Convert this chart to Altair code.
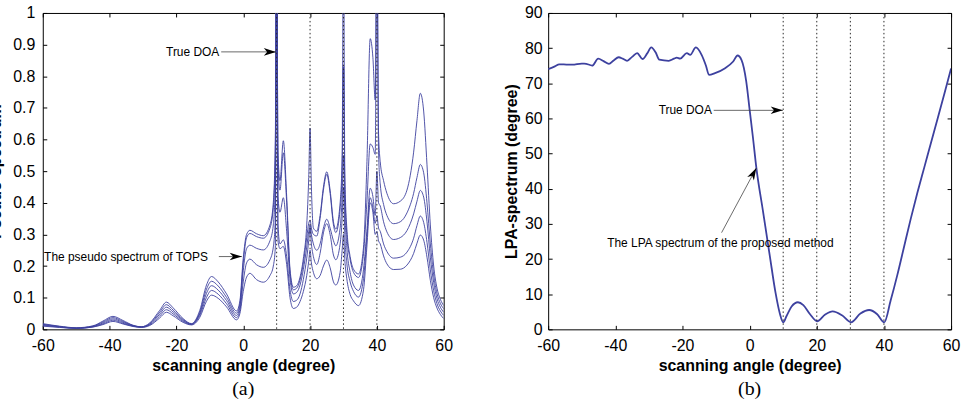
import altair as alt
import pandas as pd

# ---------------- data ----------------
ANG = [-60, -55, -50, -45, -42, -39, -36, -33, -30.5, -28,
       -25, -23, -21, -18, -15.5, -13, -11, -9.5, -7.5, -5,
       -2, -1, 0, 1, 2, 4, 6, 8, 9, 9.6,
       10, 10.4, 11, 12, 13, 14, 15, 16, 17, 18,
       19, 19.6, 20, 20.4, 21, 22, 23, 24, 25, 26,
       27, 27.7, 29, 29.6, 30, 30.4, 31, 32, 33, 34.5,
       36, 37, 38, 38.8, 39.5, 40, 40.5, 41, 42, 43,
       45, 47, 49, 51, 52, 53, 54, 55, 56, 57,
       58, 59, 60]

C1 = [.018, .010, .005, .011, .026, .041, .028, .013, .008, .020,
      .060, .086, .068, .034, .018, .060, .140, .167, .150, .112,
      .058, .090, .225, .300, .313, .302, .296, .330, .400, .600,
      1.3, .560, .470, .596, .420, .190, .133, .138, .165, .225,
      .330, .480, .636, .450, .320, .310, .360, .450, .498, .440,
      .340, .317, .400, .550, 1.3, .500, .320, .230, .190, .175,
      .260, .520, .919, .860, .725, 1.3, .620, .530, .470, .430,
      .397, .405, .440, .560, .660, .746, .690, .520, .330, .200,
      .130, .095, .075]
C2 = [.016, .009, .004, .010, .023, .037, .025, .012, .008, .018,
      .054, .078, .061, .031, .017, .054, .127, .152, .137, .101,
      .051, .080, .210, .290, .303, .293, .288, .320, .385, .560,
      1.3, .520, .440, .558, .400, .180, .125, .130, .156, .210,
      .290, .335, .345, .320, .300, .295, .350, .440, .490, .430,
      .330, .306, .380, .500, .830, .450, .300, .220, .180, .164,
      .240, .400, .586, .575, .553, 1.3, .560, .460, .395, .360,
      .334, .340, .368, .430, .480, .521, .495, .400, .270, .172,
      .113, .082, .065]
C3 = [.014, .008, .004, .009, .020, .033, .022, .011, .007, .016,
      .048, .070, .055, .028, .016, .049, .114, .138, .124, .091,
      .044, .070, .185, .255, .266, .256, .251, .280, .330, .460,
      1.3, .420, .370, .416, .310, .160, .112, .117, .140, .190,
      .260, .310, .330, .300, .270, .250, .270, .320, .348, .320,
      .280, .264, .320, .420, .550, .380, .260, .180, .140, .123,
      .190, .310, .446, .420, .360, .500, .400, .390, .340, .308,
      .284, .290, .312, .365, .405, .439, .418, .340, .228, .148,
      .097, .070, .054]
C4 = [.012, .007, .003, .008, .017, .029, .019, .010, .007, .014,
      .042, .062, .049, .025, .015, .044, .101, .123, .111, .081,
      .037, .060, .150, .210, .222, .204, .196, .220, .260, .350,
      1.3, .330, .270, .283, .230, .125, .088, .092, .112, .158,
      .225, .280, .320, .270, .230, .205, .240, .305, .334, .300,
      .235, .220, .270, .350, .450, .300, .210, .150, .120, .102,
      .160, .290, .416, .385, .335, .360, .320, .310, .270, .246,
      .225, .228, .244, .288, .328, .358, .338, .275, .188, .122,
      .081, .058, .044]
C5 = [.010, .006, .003, .007, .015, .025, .017, .009, .006, .012,
      .036, .054, .043, .022, .014, .038, .089, .108, .098, .071,
      .030, .050, .120, .165, .177, .157, .149, .170, .200, .260,
      1.3, .280, .255, .262, .205, .100, .066, .070, .088, .120,
      .170, .215, .250, .210, .180, .160, .170, .200, .219, .195,
      .150, .140, .180, .250, .300, .220, .160, .110, .090, .075,
      .125, .260, .400, .370, .300, .310, .280, .270, .232, .207,
      .189, .190, .203, .240, .272, .298, .282, .228, .155, .100,
      .067, .047, .034]

R_ANG = [-60, -58, -56.7, -54, -52.8, -50, -49.3, -47.5, -46.9, -45.1,
         -43.5, -41.9, -40.5, -39, -37.8, -36.5, -35, -33.5, -31.9, -30.5,
         -29.3, -28, -26.9, -24.1, -22.5, -21.7, -20.7, -18.7, -17.7, -16,
         -14.3, -13, -12.1, -10.3, -7.3, -4.9, -3.6, -2.4, -1, 0,
         1, 2, 4, 6, 7.7, 9, 10, 11, 12.5, 14.4,
         16, 18, 20.1, 22.5, 24.7, 27.5, 30.2, 33, 35.6, 38,
         40.1, 42, 44, 46, 48, 50, 52, 54, 56, 58,
         60]
R_VAL = [74.0, 74.8, 75.4, 75.3, 75.3, 75.6, 75.6, 75.2, 75.0, 77.0,
         76.3, 75.5, 76.5, 77.4, 77.0, 76.4, 77.5, 78.6, 76.9, 78.5,
         80.2, 78.8, 76.7, 76.4, 77.0, 77.3, 77.0, 78.6, 78.1, 80.2,
         78.1, 75.0, 72.4, 72.9, 74.3, 76.2, 77.9, 76.6, 70.5, 62.5,
         54.5, 46.0, 33.5, 21.0, 10.5, 4.5, 2.0, 3.8, 6.5, 7.7,
         6.9, 4.3, 2.3, 4.2, 5.1, 4.0, 2.0, 4.5, 5.5, 4.3,
         2.0, 8.2, 15.5, 23.5, 31.5, 39.0, 46.0, 53.0, 60.0, 67.0,
         74.2]

DOA = [10, 20, 30, 40]
X_TICKS = [-60, -40, -20, 0, 20, 40, 60]
Y1_TICKS = [0, 0.1, 0.2, 0.3, 0.4, 0.5, 0.6, 0.7, 0.8, 0.9, 1]
Y2_TICKS = [0, 10, 20, 30, 40, 50, 60, 70, 80, 90]

# annotations (data coordinates)
A_TEXT = ["True DOA", "The pseudo spectrum of TOPS"]
A_TX = [-23.1, -59.6]
A_TY = [0.877, 0.23]
A_ALIGN = ["left", "left"]
A_X0 = [-6.6, -7.3]
A_Y0 = [0.877, 0.23]
A_X1 = [9.8, -0.4]
A_Y1 = [0.877, 0.23]
A_ANG = [0, 0]

B_TEXT = ["True DOA", "The LPA spectrum of the proposed method"]
B_TX = [-27.1, -8.7]
B_TY = [62.3, 24.6]
B_ALIGN = ["left", "center"]
B_X0 = [-10.7, -8.35]
B_Y0 = [62.3, 27.5]
B_X1 = [9.9, 2.0]
B_Y1 = [62.3, 45.9]
B_ANG = [0, 298.2]

FONT = "Liberation Sans"
LINE_COLOR = "#3d419f"
ARROW = "M 0 0 L -2 -0.62 L -1.45 0 L -2 0.62 Z"


def in_axis(orient, values, **kw):
    return alt.Axis(orient=orient, values=values, offset=-4, tickSize=4,
                    domain=False, grid=False, labelFlush=False, **kw)


def panel(line_df, ymax, yticks, ytitle, ylabpad, ytitlepad, yfmt,
          ann_df, arrow_df, tag, line_width):
    xs = alt.Scale(domain=[-60, 60], nice=False, zero=False)
    ys = alt.Scale(domain=[0, ymax], nice=False, zero=True)

    lines = alt.Chart(line_df).mark_line(
        clip=True, strokeWidth=line_width, color=LINE_COLOR, interpolate="monotone"
    ).encode(
        x=alt.X("angle:Q", scale=xs,
                axis=in_axis("bottom", X_TICKS, labelExpr="datum.value + ''",
                             title="scanning angle (degree)", labelPadding=8,
                             titlePadding=4)),
        y=alt.Y("value:Q", scale=ys,
                axis=in_axis("left", yticks, format=yfmt, title=ytitle,
                             labelPadding=ylabpad, titlePadding=ytitlepad)),
        detail="curve:N",
    )

    rules = alt.Chart(pd.DataFrame({"doa": DOA})).mark_rule(
        color="#2a2a2a", strokeWidth=1, strokeDash=[1.5, 2.5]
    ).encode(
        x=alt.X("doa:Q", scale=xs,
                axis=in_axis("top", X_TICKS, labels=False, title=None))
    )

    text_layers = []
    first = True
    for al in ["left", "center"]:
        sub = ann_df[ann_df["align"] == al]
        if len(sub) == 0:
            continue
        yenc = alt.Y("ty:Q", scale=ys,
                     axis=in_axis("right", yticks, labels=False, title=None) if first else None)
        first = False
        text_layers.append(
            alt.Chart(sub).mark_text(
                baseline="middle", align=al, font=FONT, fontSize=12, color="black"
            ).encode(
                x=alt.X("tx:Q", scale=xs, axis=None),
                y=yenc,
                text="label:N",
            )
        )

    shafts = alt.Chart(arrow_df).mark_rule(color="#444444", strokeWidth=0.8).encode(
        x=alt.X("x0:Q", scale=xs, axis=None),
        x2="x1:Q",
        y=alt.Y("y0:Q", scale=ys, axis=None),
        y2="y1:Q",
    )

    heads = alt.Chart(arrow_df).mark_point(
        shape=ARROW, filled=True, color="black", size=150, opacity=1, strokeWidth=0
    ).encode(
        x=alt.X("x1:Q", scale=xs, axis=None),
        y=alt.Y("y1:Q", scale=ys, axis=None),
        angle=alt.Angle("ang:Q", scale=None),
    )

    title = alt.TitleParams(tag, orient="bottom", font="Liberation Serif", fontSize=20,
                            fontWeight="normal", color="black", anchor="middle",
                            frame="group", offset=6)
    return alt.layer(lines, rules, *text_layers, shafts, heads).properties(
        width=403 if tag == "(a)" else 405, height=318, title=title)


left_rows = []
for name, vals in [("c1", C1), ("c2", C2), ("c3", C3), ("c4", C4), ("c5", C5)]:
    for a, v in zip(ANG, vals):
        left_rows.append({"angle": a, "value": v, "curve": name})
left_df = pd.DataFrame(left_rows)
right_df = pd.DataFrame({"angle": R_ANG, "value": R_VAL, "curve": "lpa"})

lann = pd.DataFrame({"label": A_TEXT, "tx": A_TX, "ty": A_TY, "align": A_ALIGN})
larr = pd.DataFrame({"x0": A_X0, "y0": A_Y0, "x1": A_X1, "y1": A_Y1, "ang": A_ANG})
rann = pd.DataFrame({"label": B_TEXT, "tx": B_TX, "ty": B_TY, "align": B_ALIGN})
rarr = pd.DataFrame({"x0": B_X0, "y0": B_Y0, "x1": B_X1, "y1": B_Y1, "ang": B_ANG})

left = panel(left_df, 1, Y1_TICKS, "Pseudo-spectrum", 8, 9, "~g", lann, larr, "(a)", 0.9)
right = panel(right_df, 90, Y2_TICKS, "LPA-spectrum (degree)", 6, 5, "d", rann, rarr, "(b)", 1.8)

chart = alt.hconcat(left, right, spacing=105, bounds="flush").properties(
    padding={"left": -13, "top": 3, "right": 5, "bottom": 0},
    background="white",
).configure_view(
    stroke="black", strokeWidth=1
).configure_axis(
    labelFont=FONT, labelFontSize=16, labelColor="black",
    titleFont=FONT, titleFontSize=16, titleFontWeight="bold", titleColor="black",
    tickColor="black", tickWidth=1,
)

chart.save("out.html", embed_options={"renderer": "svg", "actions": False})
